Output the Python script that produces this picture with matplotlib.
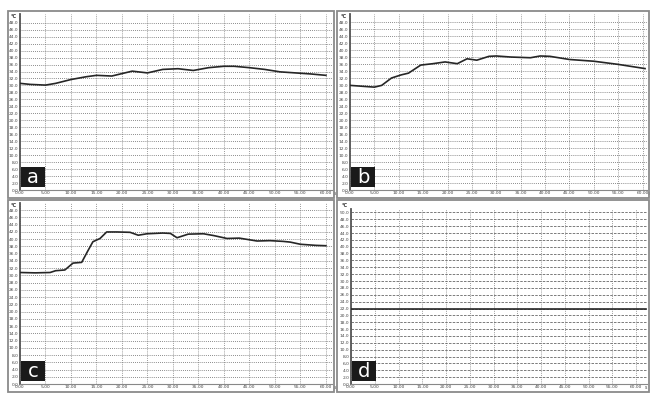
import numpy as np
import matplotlib
matplotlib.use("Agg")
import matplotlib.pyplot as plt
from matplotlib.patches import Rectangle

# time (min) and temperature (degC) read from the four recordings
t_a = [0, 2, 5, 7, 10, 13, 15, 18, 20, 22, 25, 28, 31, 34, 37, 40, 42, 45, 48, 51, 54, 57, 60]
temp_a = [30.6, 30.3, 30.1, 30.6, 31.7, 32.5, 32.9, 32.7, 33.4, 34.1, 33.6, 34.6, 34.8, 34.3,
          35.1, 35.5, 35.5, 35.1, 34.6, 33.9, 33.6, 33.3, 32.9]

t_b = [0, 3, 5, 6.5, 8.5, 10.5, 12, 14.5, 17, 19.5, 22, 24, 26, 28.5, 30, 33, 37, 39, 41,
       45, 50, 55, 60.5]
temp_b = [29.9, 29.6, 29.4, 29.9, 32.0, 32.9, 33.4, 35.7, 36.1, 36.6, 36.1, 37.5, 37.1, 38.2,
          38.3, 38.0, 37.8, 38.3, 38.2, 37.3, 36.8, 35.9, 34.7]

t_c = [0, 3, 5.9, 7, 8.8, 10.4, 12.1, 13.2, 14.3, 15.7, 17, 19, 21.6, 23.2, 24.9, 28, 29.5,
       30.8, 33, 36, 38, 40.6, 43, 46.5, 49, 51.6, 53, 55, 58, 60]
temp_c = [30.8, 30.7, 30.8, 31.3, 31.5, 33.4, 33.6, 36.5, 39.3, 40.2, 42.0, 42.0, 41.9, 41.1,
          41.5, 41.7, 41.6, 40.4, 41.4, 41.5, 41.0, 40.2, 40.3, 39.5, 39.6, 39.4, 39.2, 38.6,
          38.3, 38.2]

t_d = [0, 62]
temp_d = [22.0, 22.0]

W, H = 650, 393
fig = plt.figure(figsize=(6.5, 3.93), dpi=100)
fig.patch.set_facecolor("white")


def px_rect(left, top, right, bottom):
    return [left / W, 1 - bottom / H, (right - left) / W, (bottom - top) / H]


# outer frames of the 4 panels
for (l, t, r, b) in [(8, 11, 334, 198), (337, 11, 649, 198), (8, 200, 334, 392), (337, 200, 649, 392)]:
    fig.patches.append(Rectangle((l / W, 1 - b / H), (r - l) / W, (b - t) / H,
                                 transform=fig.transFigure, fill=False,
                                 ec="#8a8a8a", lw=1.3))

panels = [
    # data, pixel box, xmax, ymax, top tick, letter, horizontal grid style, "s" offset
    (t_a, temp_a, (20, 14, 332, 190), 61.2, 50.5, 48, "a", (0, (1, 1.5)), 6),
    (t_b, temp_b, (350, 14, 647, 190), 60.9, 50.3, 48, "b", (0, (1, 1.5)), 4),
    (t_c, temp_c, (20, 203, 332, 384), 61.2, 50.0, 48, "c", (0, (1, 1.5)), 6),
    (t_d, temp_d, (351, 209, 647, 384), 62.3, 51.0, 50, "d", (0, (3, 1.5)), 6),
]

for t, v, box, xmax, ymax, ytop, letter, ls, s_off in panels:
    ax = fig.add_axes(px_rect(*box))
    ax.set_xlim(0, xmax)
    ax.set_ylim(0, ymax)
    ax.plot(t, v, color="#262626", lw=1.2, zorder=3)

    ax.set_xticks(np.arange(0, 61, 5))
    ax.set_xticklabels(["%.2f" % x for x in np.arange(0, 61, 5)])
    ax.set_yticks(np.arange(0, ytop + 1, 2))
    ax.set_yticklabels(["%.1f" % y for y in np.arange(0, ytop + 1, 2)])
    ax.tick_params(axis="both", labelsize=3.2, length=0, pad=1.0, colors="#444444")

    ax.xaxis.grid(True, color="#9a9a9a", ls=(0, (1, 1.2)), lw=0.7)
    ax.yaxis.grid(True, color="#666666", ls=ls, lw=0.6)
    ax.set_axisbelow(True)

    for s in ["top", "right"]:
        ax.spines[s].set_visible(False)
    ax.spines["left"].set_color("#555555")
    ax.spines["left"].set_linewidth(1.3)
    ax.spines["bottom"].set_color("#888888")
    ax.spines["bottom"].set_linewidth(0.8)

    if letter == "d":
        ax.text(-0.012, 1.003, "°C", transform=ax.transAxes, ha="right", va="bottom",
                fontsize=3.6, fontweight="bold", color="#333333")
    else:
        ax.text(-0.012, 1.0, "°C", transform=ax.transAxes, ha="right", va="top",
                fontsize=3.6, fontweight="bold", color="#333333")
    ax.annotate("s", xy=(60, 0), xycoords="data", xytext=(s_off, -1.0),
                textcoords="offset points", ha="left", va="top",
                fontsize=3.4, color="#444444", annotation_clip=False)

    # black label box with white letter
    bw = 24 / (box[2] - box[0])
    bh = 20 / (box[3] - box[1])
    ax.add_patch(Rectangle((0.004, 0.015), bw, bh, transform=ax.transAxes,
                           fc="#1a1a1a", ec="none", zorder=5))
    ax.text(0.004 + bw / 2, 0.015 + bh / 2, letter, transform=ax.transAxes,
            ha="center", va="center", fontsize=14, color="white", zorder=6)

fig.savefig("out.png", dpi=100, facecolor="white")
